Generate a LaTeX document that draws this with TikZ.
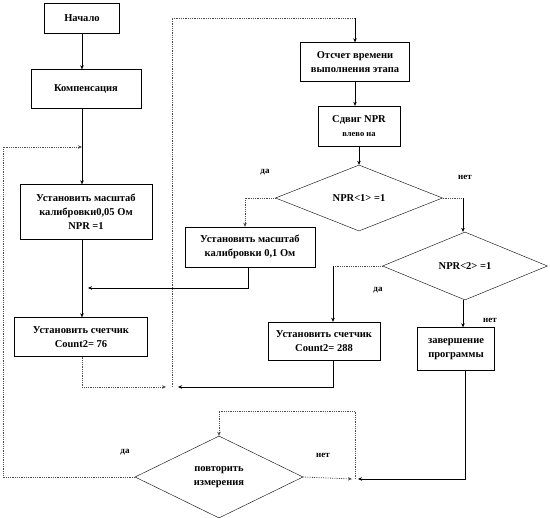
\documentclass[tikz,border=0pt]{standalone}
\usepackage{fontspec}
\setmainfont{Liberation Serif}
\usepackage{tikz}
\usetikzlibrary{arrows.meta,calc,positioning,shapes.geometric}

\begin{document}
\begin{tikzpicture}[x=1pt,y=-1pt,>={Stealth[length=4pt,width=3.5pt]},
  box/.style={draw,thin,fill=white,align=center,inner sep=1pt,font=\bfseries\fontsize{10.5}{14}\selectfont},
  cond/.style={draw,thin,diamond,inner sep=0pt,align=center,font=\bfseries\fontsize{10.5}{14}\selectfont},
  lab/.style={font=\bfseries\fontsize{9}{10}\selectfont},
  dots/.style={densely dotted,thick,black!70}]
\useasboundingbox (0,0) rectangle (550,518);
% ---------- левая ветка ----------
\node[box,minimum width=75,minimum height=30] (start) at (82,18) {Начало};
\node[box,minimum width=110,minimum height=39] (komp) at (86,89) {Компенсация};
\node[box,minimum width=132,minimum height=55] (scale1) at (86,212) {Установить масштаб\\калибровки0,05 Ом\\NPR =1};
\node[box,minimum width=133,minimum height=39] (count76) at (81,337) {Установить счетчик\\Count2= 76};
% ---------- правая ветка ----------
\node[box,minimum width=109,minimum height=39] (otschet) at (355,62) {Отсчет времени\\выполнения этапа};
\node[box,minimum width=82,minimum height=40] (sdvig) at (359,126) {Сдвиг NPR\\{\fontsize{8.5}{9}\selectfont влево на}};
\node[cond,minimum width=167,minimum height=66] (d1) at (359,198) {NPR<1> =1};
\node[box,minimum width=130,minimum height=40] (scale2) at (250,247) {Установить масштаб\\калибровки 0,1 Ом};
\node[cond,minimum width=165,minimum height=68] (d2) at (465,266) {NPR<2> =1};
\node[box,minimum width=112,minimum height=38] (count288) at (324,341) {Установить счетчик\\Count2= 288};
\node[box,minimum width=77,minimum height=43] (finish) at (456,349) {завершение\\программы};
\node[cond,minimum width=168,minimum height=82] (d3) at (219,477) {повторить\\измерения};
% точки сходимости линий
\coordinate (loopL) at (3,147);
\coordinate (spine) at (82,147);
\coordinate (join) at (172,387);
\coordinate (topR) at (172,18);
\coordinate (meet) at (355,479);
\coordinate (topD) at (355,411);
% ---------- стрелки ----------
\draw[->] (start.south) -- (start.south |- komp.north);
\draw[->] (spine |- komp.south) -- (spine |- scale1.north);
\draw[->] (spine |- scale1.south) -- (spine |- count76.north);
\draw[dots,->] (d3.west) -| (loopL) -- (spine);
\draw[->] (scale2.south -| 248,0) |- (88,288);
\draw[dots,->] (spine |- count76.south) |- ($(join)+(-6,0)$);
\draw[->] (count288.south -| 333,0) |- ($(join)+(6,0)$);
\draw[dots] (join) -- (topR) -- (topR -| otschet);
\draw[->] (topR -| otschet) -- (otschet.north);
\draw[->] (otschet.south) -- (sdvig.north -| otschet);
\draw[->] (sdvig.south) -- (d1.north);
\draw[dots,->] (d1.west) -| (scale2.north -| 245,0);
\draw[dots] (d1.east) -- (463,198);
\draw[->] (463,198) -- (d2.north -| 463,0);
\draw[dots] (d2.west) -- (333,266);
\draw[->] (333,266) -- (count288.north -| 333,0);
\draw[->] (d2.south -| 463,0) -- (finish.north -| 463,0);
\draw[->] (finish.south -| 465,0) -- (465,479) -- ($(meet)+(3,0)$);
\draw[dots,->] (d3.east) -- ($(meet)+(-3,0)$);
\draw[dots,->] (meet) -- (topD) -| (d3.north);
% ---------- подписи ----------
\node[lab] (yes1) at (265,172) {да};
\node[lab] (no1) at (465,177) {нет};
\node[lab] (yes2) at (378,290) {да};
\node[lab] (no2) at (490,320) {нет};
\node[lab] (yes3) at (125,452) {да};
\node[lab] (no3) at (323,455) {нет};
\end{tikzpicture}
\end{document}
